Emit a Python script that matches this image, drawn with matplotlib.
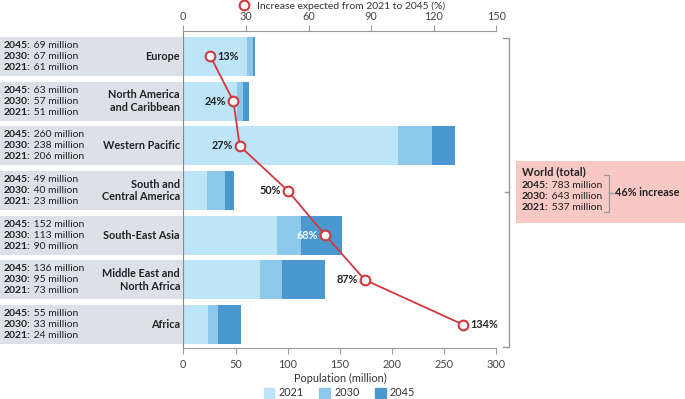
import matplotlib.pyplot as plt
from matplotlib.patches import Patch, Rectangle
from matplotlib.lines import Line2D
import numpy as np

plt.rcParams['font.family'] = ['Lato', 'DejaVu Sans']

regions = ['Europe', 'North America\nand Caribbean', 'Western Pacific',
           'South and\nCentral America', 'South-East Asia',
           'Middle East and\nNorth Africa', 'Africa']
pop_2021 = [61, 51, 206, 23, 90, 73, 24]
pop_2030 = [67, 57, 238, 40, 113, 95, 33]
pop_2045 = [69, 63, 260, 49, 152, 136, 55]
increase_pct = [13, 24, 27, 50, 68, 87, 134]
world_years = ['2045', '2030', '2021']
world_vals = [783, 643, 537]
world_increase = 46

c21 = '#bde4f7'
c30 = '#8cc8ea'
c45 = '#4b98d0'
red = '#d0393d'
grey_box = '#dde1e7'
txt = '#222222'
W, H = 685, 399

fig = plt.figure(figsize=(W / 100, H / 100), dpi=100)

# main axes (pixel layout measured from reference)
left, right, top, bot = 183.3, 496.5, 30.7, 348.3
ax = fig.add_axes([left / W, 1 - bot / H, (right - left) / W, (bot - top) / H])

y = np.arange(len(regions))
bh = 0.87
a21 = np.array(pop_2021)
a30 = np.array(pop_2030)
a45 = np.array(pop_2045)
ax.barh(y, a21, height=bh, color=c21, zorder=2)
ax.barh(y, a30 - a21, left=a21, height=bh, color=c30, zorder=2)
ax.barh(y, a45 - a30, left=a30, height=bh, color=c45, zorder=2)
ax.set_xlim(0, 300)
ax.set_ylim(6.53, -0.577)
ax.set_yticks([])
for s in ['top', 'right']:
    ax.spines[s].set_visible(False)
ax.spines['left'].set_color('#888888')
ax.spines['bottom'].set_color('#999999')
ax.spines['left'].set_linewidth(0.8)
ax.spines['bottom'].set_linewidth(0.8)
ax.set_xticks(range(0, 301, 50))
ax.tick_params(axis='x', colors='#999999', labelcolor='#444444', labelsize=7.8,
               length=4, width=0.8, pad=4)
ax.set_xlabel('Population (million)', fontsize=7.8, color='#333333', labelpad=1.5)

# top axis: percentage increase
ax2 = ax.twiny()
ax2.set_xlim(0, 150)
ax2.set_xticks(range(0, 151, 30))
for s in ['bottom', 'right', 'left']:
    ax2.spines[s].set_visible(False)
ax2.spines['top'].set_color('#999999')
ax2.spines['top'].set_linewidth(0.8)
ax2.tick_params(axis='x', colors='#999999', labelcolor='#444444', labelsize=7.8,
                length=4, width=0.8, pad=2)
ax2.plot(increase_pct, y, color=red, lw=1.3, marker='o', ms=7,
         mfc='white', mec=red, mew=1.5, zorder=5)
for i, p in enumerate(increase_pct):
    if i == 0 or i == len(increase_pct) - 1:
        off, ha = 5, 'left'
    else:
        off, ha = -5, 'right'
    col = 'white' if regions[i] == 'South-East Asia' else txt
    ax2.annotate(f'{p}%', (p, y[i]), xytext=(off, 0), textcoords='offset points',
                 ha=ha, va='center', fontsize=7.8, fontweight='bold', color=col,
                 zorder=6)

# left label boxes
axl = fig.add_axes([0, 1 - bot / H, left / W, (bot - top) / H], sharey=ax)
axl.set_xlim(0, 1)
axl.barh(y, 1, height=bh, color=grey_box)
axl.axis('off')
dy = 0.245
for i, name in enumerate(regions):
    axl.text(0.982, y[i], name, ha='right', va='center', fontsize=7.8,
             fontweight='bold', color=txt, linespacing=1.15)
    vals = [pop_2045[i], pop_2030[i], pop_2021[i]]
    for k, (yr, v) in enumerate(zip(world_years, vals)):
        t = axl.text(0.022, y[i] + (k - 1) * dy, f'{yr}:', ha='left', va='center',
                     fontsize=7.5, fontweight='bold', color=txt)
        axl.annotate(f' {v} million', xy=(1, 0.5), xycoords=t, ha='left',
                     va='center', fontsize=7.5, color=txt)

# overlay in pixel coords for bracket and world box
ov = fig.add_axes([0, 0, 1, 1], facecolor='none')
ov.set_xlim(0, W)
ov.set_ylim(H, 0)
ov.axis('off')
gc = '#999999'
ov.plot([503, 509.3, 509.3, 503], [38, 38, 346.7, 346.7], color=gc, lw=1)
ov.plot([505, 509.3], [191.7, 191.7], color=gc, lw=1)
ov.add_patch(Rectangle((516, 161), W - 516, 61.5, color='#f8c8c5', lw=0))
ov.text(522, 172, 'World (total)', fontsize=8, fontweight='bold', color=txt,
        va='center')
for k, (yr, v) in enumerate(zip(world_years, world_vals)):
    t = ov.text(522, 185 + k * 11.2, f'{yr}:', fontsize=7.5, fontweight='bold',
                color=txt, va='center')
    ov.annotate(f' {v} million', xy=(1, 0.5), xycoords=t, ha='left', va='center',
                fontsize=7.5, color=txt)
ov.plot([604, 609, 609, 604], [175, 175, 211.5, 211.5], color=gc, lw=0.9)
ov.plot([609, 613], [193, 193], color=gc, lw=0.9)
ov.text(615, 193, f'{world_increase}% increase', fontsize=7.8, fontweight='bold',
        color=txt, va='center')

# legends
top_handle = Line2D([], [], ls='none', marker='o', ms=7, mfc='white', mec=red, mew=1.5)
fig.legend([top_handle], ['Increase expected from 2021 to 2045 (%)'],
           loc='center', bbox_to_anchor=(0.4956, 1 - 6 / H), frameon=False,
           fontsize=7.5, handletextpad=0.3, borderpad=0, labelcolor='#333333')
handles = [Patch(color=c21), Patch(color=c30), Patch(color=c45)]
fig.legend(handles, ['2021', '2030', '2045'], loc='center', ncol=3,
           bbox_to_anchor=(0.4956, 1 - 393 / H), frameon=False, fontsize=7.8,
           handlelength=1.0, handleheight=1.0, handletextpad=0.4,
           columnspacing=1.4, borderpad=0, labelcolor='#333333')

fig.savefig('out.png', dpi=100)
